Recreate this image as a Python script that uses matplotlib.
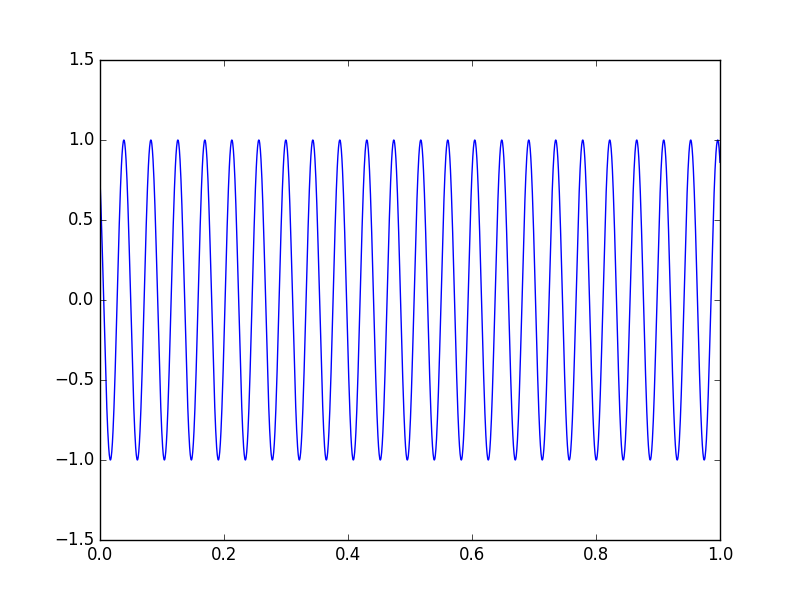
import numpy as np
import matplotlib
matplotlib.use("Agg")
import matplotlib.pyplot as plt

plt.style.use("classic")

# Sinusoid parameters
frequency = 22.97   # cycles over x in [0, 1]
phase = 0.7227      # radians, value at x=0 is ~0.75
amplitude = 1.0
n_points = 2000

x = np.linspace(0.0, 1.0, n_points)
y = amplitude * np.cos(2 * np.pi * frequency * x + phase)

fig = plt.figure(figsize=(8, 6), dpi=100)
ax = fig.add_subplot(111)
ax.plot(x, y, color="b", linewidth=1.0)
ax.set_xlim(0.0, 1.0)
ax.set_ylim(-1.5, 1.5)
fig.savefig("out.png", dpi=100)
